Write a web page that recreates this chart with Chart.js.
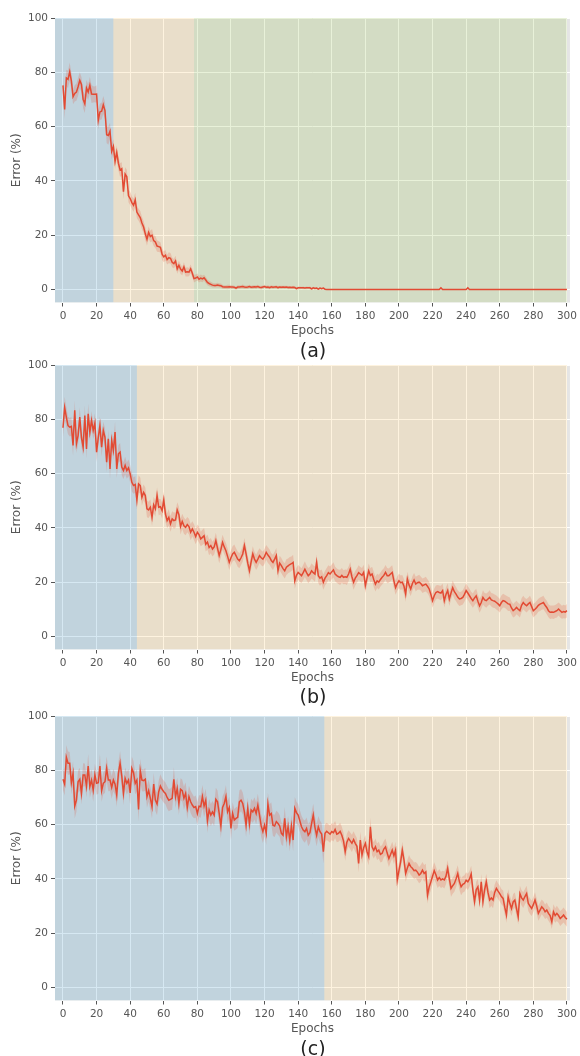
<!DOCTYPE html>
<html lang="en">
<head>
  <meta charset="UTF-8" />
  <title>Error vs Epochs</title>
  <script src="https://cdn.jsdelivr.net/npm/chart.js"></script>
  <style>
    body { margin: 0; background: #fff; width: 580px; height: 1056px; overflow: hidden; position: relative; }
    canvas { position: absolute; left: 0; }
    .caption { position: absolute; left: 263px; width: 100px; text-align: center;
      font-family: "DejaVu Sans", sans-serif; font-size: 19px; line-height: 19px; color: #222; }
  </style>
</head>
<body>
  <canvas id="chartA" width="580" height="340" style="top:0px"></canvas>
  <div class="caption" style="top:341px">(a)</div>
  <canvas id="chartB" width="580" height="340" style="top:347px"></canvas>
  <div class="caption" style="top:687px">(b)</div>
  <canvas id="chartC" width="580" height="340" style="top:698px"></canvas>
  <div class="caption" style="top:1039px">(c)</div>

<script>
  // tick labels
  const xTicks = [0, 20, 40, 60, 80, 100, 120, 140, 160, 180, 200, 220, 240, 260, 280, 300];
  const yTicks = [0, 20, 40, 60, 80, 100];

  // phase boundaries (epochs) for the shaded regions
  const phasesA = [-5, 30, 78, 300];
  const phasesB = [-5, 44, 300];
  const phasesC = [-5, 155.6, 300];

  // mean error per epoch (0..300)
  const errorA = [
    75.2, 66.3, 77.9, 77.4, 80.2, 76.8, 71.0, 72.2, 72.7, 74.7,
    77.0, 75.5, 70.0, 68.4, 74.2, 72.7, 75.2, 72.0, 71.9, 71.9,
    72.0, 62.3, 65.4, 65.7, 68.0, 65.9, 57.0, 56.7, 58.3, 50.9,
    52.7, 47.2, 50.5, 46.5, 44.0, 44.5, 36.0, 42.5, 41.5, 34.5,
    33.5, 32.0, 31.0, 33.0, 28.5, 27.5, 26.5, 24.5, 23.0, 20.5,
    18.5, 21.0, 19.5, 20.0, 18.0, 17.5, 16.0, 15.8, 15.5, 13.0,
    12.0, 12.6, 11.0, 11.7, 11.5, 10.0, 9.5, 10.5, 7.6, 8.9,
    7.5, 6.8, 8.3, 6.4, 6.5, 6.4, 7.6, 6.0, 4.0, 4.2,
    4.6, 3.8, 4.2, 3.9, 4.3, 3.5, 2.6, 2.2, 1.9, 1.6,
    1.5, 1.5, 1.6, 1.5, 1.4, 1.0, 0.9, 0.9, 0.9, 1.0,
    0.9, 0.9, 0.8, 0.5, 0.9, 0.9, 1.0, 1.1, 0.9, 0.8,
    0.9, 1.1, 0.8, 0.9, 1.0, 0.9, 1.1, 0.8, 0.7, 0.9,
    1.1, 0.8, 0.9, 0.7, 1.0, 0.8, 0.9, 1.0, 0.7, 0.9,
    0.8, 0.9, 0.8, 0.9, 0.7, 0.8, 0.7, 0.8, 0.7, 0.3,
    0.6, 0.6, 0.6, 0.6, 0.5, 0.6, 0.6, 0.6, 0.2, 0.6,
    0.4, 0.5, 0.1, 0.5, 0.3, 0.5, 0.1, 0, 0, 0,
    0, 0, 0, 0, 0, 0, 0, 0, 0, 0,
    0, 0, 0, 0, 0, 0, 0, 0, 0, 0,
    0, 0, 0, 0, 0, 0, 0, 0, 0, 0,
    0, 0, 0, 0, 0, 0, 0, 0, 0, 0,
    0, 0, 0, 0, 0, 0, 0, 0, 0, 0,
    0, 0, 0, 0, 0, 0, 0, 0, 0, 0,
    0, 0, 0, 0, 0, 0.6, 0, 0, 0, 0,
    0, 0, 0, 0, 0, 0, 0, 0, 0, 0,
    0, 0.6, 0, 0, 0, 0, 0, 0, 0, 0,
    0, 0, 0, 0, 0, 0, 0, 0, 0, 0,
    0, 0, 0, 0, 0, 0, 0, 0, 0, 0,
    0, 0, 0, 0, 0, 0, 0, 0, 0, 0,
    0, 0, 0, 0, 0, 0, 0, 0, 0, 0,
    0, 0, 0, 0, 0, 0, 0, 0, 0, 0,
    0
  ];
  const errorB = [
    76.9, 84.3, 80.8, 77.7, 77.1, 77.4, 70.4, 83.3, 71.0, 74.0,
    80.8, 73.2, 69.7, 81.4, 69.1, 82.0, 75.3, 79.6, 75.9, 78.6,
    67.9, 73.2, 77.7, 69.7, 75.9, 73.4, 64.2, 72.8, 61.7, 72.2,
    68.5, 75.3, 61.7, 67.3, 67.9, 62.4, 61.1, 63.0, 61.1, 62.1,
    59.9, 56.8, 55.6, 56.0, 50.3, 56.2, 55.6, 51.3, 53.1, 51.9,
    47.0, 46.6, 47.6, 43.9, 48.5, 47.0, 51.9, 47.6, 47.8, 46.4,
    50.3, 45.1, 42.7, 43.9, 41.5, 43.3, 42.7, 42.9, 46.6, 44.9,
    40.5, 42.4, 40.8, 40.2, 41.2, 40.5, 38.4, 39.6, 38.4, 36.8,
    38.4, 37.5, 35.9, 36.5, 37.1, 34.0, 34.8, 32.8, 33.5, 32.2,
    33.0, 35.3, 32.5, 29.8, 32.0, 34.7, 33.0, 31.6, 29.5, 27.3,
    29.0, 30.4, 31.0, 29.8, 28.5, 27.9, 29.0, 30.4, 33.5, 30.4,
    27.0, 24.2, 27.5, 30.4, 28.5, 27.3, 28.5, 29.8, 29.0, 28.5,
    29.5, 31.0, 30.0, 29.2, 28.0, 27.3, 28.5, 29.8, 24.2, 27.0,
    26.1, 25.0, 24.2, 25.5, 26.0, 26.5, 26.8, 27.3, 20.5, 22.5,
    23.6, 23.0, 22.4, 23.5, 24.8, 23.5, 22.4, 23.0, 24.2, 23.5,
    23.0, 27.3, 22.4, 21.5, 22.0, 20.0, 21.5, 22.4, 23.5, 23.0,
    23.8, 24.5, 23.0, 22.4, 22.0, 21.8, 22.5, 21.8, 22.0, 21.8,
    23.0, 24.8, 22.0, 20.0, 21.5, 22.4, 23.5, 23.0, 22.5, 23.6,
    18.7, 21.5, 24.2, 22.5, 23.0, 21.0, 19.3, 20.5, 20.0, 21.0,
    21.8, 22.5, 23.6, 22.4, 22.4, 23.0, 23.6, 20.5, 18.0, 19.5,
    20.5, 19.8, 20.0, 18.5, 15.6, 21.2, 19.0, 17.5, 19.5, 20.8,
    19.3, 19.8, 20.0, 19.5, 18.7, 19.0, 19.3, 18.5, 17.5, 15.5,
    13.2, 15.0, 16.2, 16.5, 16.2, 16.0, 16.9, 13.2, 15.5, 16.9,
    13.8, 16.0, 18.0, 16.5, 15.6, 14.5, 13.8, 14.0, 14.4, 15.5,
    16.9, 16.0, 15.0, 14.0, 13.2, 14.2, 15.0, 13.0, 11.3, 12.5,
    14.4, 13.5, 13.2, 13.8, 14.4, 13.5, 13.2, 13.0, 12.5, 12.0,
    11.3, 12.5, 13.2, 13.0, 12.5, 12.0, 11.9, 10.5, 9.5, 10.0,
    10.7, 10.0, 9.5, 11.5, 12.5, 11.8, 11.3, 12.0, 12.5, 11.0,
    9.5, 10.0, 10.7, 11.5, 11.9, 12.2, 12.5, 11.5, 10.7, 9.5,
    8.9, 9.0, 8.9, 9.2, 9.5, 10.1, 9.5, 8.9, 9.2, 9.0,
    9.5
  ];
  const errorC = [
    76.7, 74.9, 84.8, 82.6, 82.6, 75.4, 78.9, 66.8, 69.0, 75.8,
    76.7, 71.5, 78.3, 78.3, 74.2, 81.6, 74.0, 76.4, 72.7, 78.3,
    75.2, 75.4, 81.6, 72.5, 75.2, 75.8, 80.7, 76.4, 76.4, 73.7,
    76.4, 74.9, 70.9, 78.9, 82.6, 77.9, 71.5, 77.0, 75.2, 76.4,
    71.7, 80.7, 79.1, 75.2, 76.4, 65.6, 79.9, 76.4, 76.2, 76.7,
    70.3, 72.5, 69.7, 66.6, 74.9, 69.0, 67.6, 72.1, 74.2, 73.0,
    72.1, 71.5, 70.0, 69.0, 69.3, 69.7, 76.7, 70.3, 73.3, 67.8,
    73.0, 72.5, 69.7, 71.5, 66.3, 70.3, 68.4, 67.2, 66.3, 66.6,
    64.1, 66.8, 66.6, 70.3, 66.8, 69.0, 61.4, 65.4, 63.5, 64.7,
    63.5, 69.3, 68.4, 64.1, 59.5, 66.3, 67.8, 70.3, 64.7, 66.3,
    58.6, 64.1, 61.7, 62.3, 62.7, 68.4, 69.0, 67.8, 64.7, 59.8,
    66.0, 60.2, 65.4, 64.7, 66.0, 64.1, 67.2, 63.5, 59.5, 57.4,
    59.8, 56.8, 67.6, 63.5, 64.1, 59.8, 59.5, 61.1, 60.4, 59.5,
    56.8, 56.1, 62.3, 55.5, 59.2, 54.3, 59.5, 54.3, 66.0, 64.4,
    63.5, 61.4, 59.2, 58.0, 57.4, 58.6, 56.1, 57.0, 60.4, 63.5,
    59.0, 56.1, 59.2, 57.4, 56.5, 50.0, 56.8, 57.5, 57.0, 56.5,
    57.4, 57.0, 58.2, 56.5, 56.8, 57.5, 56.1, 54.0, 50.0, 53.5,
    54.9, 54.0, 53.1, 54.5, 53.1, 52.0, 45.7, 54.3, 48.8, 51.5,
    53.1, 50.0, 48.2, 59.2, 51.8, 50.5, 51.8, 50.0, 50.6, 49.0,
    49.4, 51.0, 51.8, 49.5, 47.5, 49.0, 50.6, 48.5, 50.6, 39.6,
    43.0, 46.3, 50.6, 47.0, 42.0, 44.0, 45.7, 44.5, 43.9, 43.0,
    43.2, 42.5, 41.4, 42.0, 43.2, 42.0, 42.6, 34.0, 37.0, 38.9,
    41.0, 43.0, 41.5, 39.6, 40.5, 39.6, 40.0, 39.6, 41.0, 43.9,
    40.0, 36.5, 37.5, 38.3, 40.0, 42.0, 39.0, 37.1, 38.0, 38.3,
    39.5, 38.9, 40.0, 41.8, 36.0, 31.6, 36.0, 37.1, 32.2, 38.9,
    31.6, 36.0, 38.9, 35.0, 32.2, 33.0, 32.2, 35.0, 36.5, 35.5,
    34.6, 33.5, 32.8, 29.5, 26.7, 33.4, 31.0, 29.1, 31.5, 32.2,
    29.0, 26.0, 34.6, 33.0, 32.2, 33.5, 34.6, 31.0, 30.0, 29.1,
    30.5, 32.2, 30.0, 27.3, 28.5, 29.7, 29.0, 27.9, 28.5, 27.3,
    26.5, 24.2, 27.9, 26.5, 27.3, 26.5, 25.4, 26.0, 26.7, 25.8,
    25.1
  ];

  // half-width of the shaded band per epoch
  const spreadA = [
    3.2, 3.5, 3.0, 3.2, 3.4, 3.0, 2.8, 3.0, 3.2, 3.3,
    3.0, 2.8, 3.2, 3.4, 3.0, 2.9, 3.1, 3.3, 3.0, 2.9,
    3.2, 3.4, 3.0, 3.1, 3.3, 3.2, 3.0, 3.4, 3.1, 2.9,
    2.6, 2.8, 2.5, 2.7, 2.6, 2.4, 2.8, 2.5, 2.6, 2.4,
    2.5, 2.3, 2.4, 2.6, 2.3, 2.2, 2.4, 2.3, 2.2, 2.4,
    2.3, 2.2, 2.1, 2.3, 2.0, 2.2, 2.1, 2.0, 1.9, 2.1,
    2.0, 1.9, 1.8, 2.0, 1.9, 1.8, 1.7, 1.9, 1.8, 1.7,
    1.8, 1.6, 1.7, 1.6, 1.7, 1.5, 1.6, 1.5, 1.4, 1.3,
    1.3, 1.2, 1.3, 1.2, 1.1, 1.2, 1.0, 1.0, 0.9, 0.9,
    0.8, 0.8, 0.9, 0.8, 0.8, 0.7, 0.7, 0.7, 0.8, 0.7,
    0.7, 0.7, 0.6, 0.6, 0.7, 0.7, 0.6, 0.7, 0.7, 0.6,
    0.7, 0.6, 0.6, 0.7, 0.6, 0.7, 0.6, 0.6, 0.7, 0.6,
    0.6, 0.6, 0.7, 0.6, 0.6, 0.6, 0.5, 0.6, 0.6, 0.5,
    0.6, 0.5, 0.6, 0.5, 0.6, 0.5, 0.5, 0.6, 0.5, 0.4,
    0.5, 0.5, 0.4, 0.5, 0.4, 0.5, 0.4, 0.5, 0.4, 0.4,
    0.4, 0.4, 0.3, 0.4, 0.3, 0.4, 0.2, 0, 0, 0,
    0, 0, 0, 0, 0, 0, 0, 0, 0, 0,
    0, 0, 0, 0, 0, 0, 0, 0, 0, 0,
    0, 0, 0, 0, 0, 0, 0, 0, 0, 0,
    0, 0, 0, 0, 0, 0, 0, 0, 0, 0,
    0, 0, 0, 0, 0, 0, 0, 0, 0, 0,
    0, 0, 0, 0, 0, 0, 0, 0, 0, 0,
    0, 0, 0, 0, 0, 0.4, 0, 0, 0, 0,
    0, 0, 0, 0, 0, 0, 0, 0, 0, 0,
    0, 0.4, 0, 0, 0, 0, 0, 0, 0, 0,
    0, 0, 0, 0, 0, 0, 0, 0, 0, 0,
    0, 0, 0, 0, 0, 0, 0, 0, 0, 0,
    0, 0, 0, 0, 0, 0, 0, 0, 0, 0,
    0, 0, 0, 0, 0, 0, 0, 0, 0, 0,
    0, 0, 0, 0, 0, 0, 0, 0, 0, 0,
    0
  ];
  const spreadB = [
    3.5, 4.0, 3.6, 3.2, 3.4, 3.5, 3.8, 3.6, 3.4, 3.3,
    3.6, 3.4, 3.2, 3.8, 3.5, 3.6, 3.3, 3.4, 3.2, 3.5,
    3.6, 3.3, 3.4, 3.5, 3.2, 3.4, 3.6, 3.3, 3.5, 3.4,
    3.5, 3.8, 3.3, 3.2, 3.4, 3.0, 3.1, 3.2, 3.0, 3.1,
    3.2, 3.4, 3.0, 3.1, 3.5, 3.2, 3.0, 3.1, 2.9, 3.0,
    3.1, 3.0, 2.9, 3.2, 3.0, 2.9, 3.1, 3.0, 2.8, 2.9,
    3.0, 2.9, 2.8, 3.0, 2.9, 2.8, 3.0, 2.9, 2.8, 3.0,
    2.9, 2.8, 3.0, 2.9, 2.8, 2.9, 3.0, 2.8, 2.9, 2.8,
    2.8, 2.9, 2.7, 2.8, 2.9, 2.7, 2.8, 2.9, 2.8, 2.7,
    2.8, 2.9, 2.7, 2.8, 2.9, 2.8, 2.7, 2.8, 2.9, 2.8,
    2.7, 2.8, 2.9, 2.7, 2.8, 2.8, 2.7, 2.9, 2.8, 2.7,
    2.8, 2.9, 2.7, 2.8, 2.7, 2.8, 2.9, 2.7, 2.8, 2.7,
    2.8, 2.7, 2.9, 2.8, 2.7, 2.8, 2.7, 2.8, 2.9, 2.7,
    2.8, 2.7, 2.8, 2.9, 2.7, 2.8, 2.7, 2.8, 2.9, 2.8,
    2.7, 2.8, 2.7, 2.8, 2.9, 2.7, 2.8, 2.7, 2.8, 2.7,
    2.8, 2.9, 2.7, 2.8, 2.7, 2.8, 2.7, 2.8, 2.7, 2.8,
    2.7, 2.8, 2.7, 2.6, 2.7, 2.8, 2.7, 2.6, 2.7, 2.8,
    2.7, 2.6, 2.7, 2.8, 2.7, 2.6, 2.7, 2.6, 2.7, 2.8,
    2.7, 2.6, 2.7, 2.6, 2.7, 2.8, 2.7, 2.6, 2.7, 2.6,
    2.7, 2.6, 2.7, 2.8, 2.6, 2.7, 2.6, 2.7, 2.6, 2.7,
    2.6, 2.7, 2.6, 2.7, 2.8, 2.6, 2.7, 2.6, 2.7, 2.6,
    2.7, 2.6, 2.7, 2.6, 2.7, 2.6, 2.7, 2.6, 2.7, 2.6,
    2.6, 2.7, 2.6, 2.5, 2.6, 2.7, 2.6, 2.5, 2.6, 2.7,
    2.6, 2.5, 2.6, 2.7, 2.6, 2.5, 2.6, 2.5, 2.6, 2.7,
    2.6, 2.5, 2.6, 2.5, 2.6, 2.7, 2.6, 2.5, 2.6, 2.5,
    2.6, 2.5, 2.6, 2.5, 2.6, 2.5, 2.6, 2.5, 2.6, 2.5,
    2.5, 2.6, 2.5, 2.4, 2.5, 2.6, 2.5, 2.4, 2.5, 2.6,
    2.5, 2.4, 2.5, 2.6, 2.5, 2.4, 2.5, 2.4, 2.5, 2.6,
    2.5, 2.4, 2.5, 2.4, 2.5, 2.4, 2.5, 2.4, 2.5, 2.4,
    2.5, 2.4, 2.5, 2.4, 2.5, 2.4, 2.5, 2.4, 2.5, 2.4,
    2.5
  ];
  const spreadC = [
    4.0, 4.2, 4.5, 4.3, 4.1, 4.2, 4.4, 4.6, 4.3, 4.1,
    4.2, 4.0, 4.3, 4.2, 4.1, 4.4, 4.2, 4.0, 4.3, 4.1,
    4.2, 4.0, 4.3, 4.1, 4.0, 4.2, 4.4, 4.1, 4.0, 4.2,
    4.1, 4.0, 4.3, 4.2, 4.4, 4.1, 4.3, 4.0, 4.2, 4.1,
    4.3, 4.4, 4.2, 4.0, 4.1, 4.5, 4.3, 4.1, 4.0, 4.2,
    4.1, 4.0, 4.2, 4.3, 4.1, 4.0, 4.2, 4.1, 4.3, 4.0,
    4.1, 4.0, 4.2, 4.1, 4.0, 4.2, 4.4, 4.1, 4.0, 4.2,
    4.1, 4.0, 4.2, 4.1, 4.3, 4.0, 4.1, 4.2, 4.0, 4.1,
    4.2, 4.0, 4.1, 4.3, 4.1, 4.2, 4.4, 4.0, 4.1, 4.0,
    4.1, 4.3, 4.2, 4.0, 4.4, 4.1, 4.0, 4.2, 4.1, 4.0,
    4.3, 4.1, 4.0, 4.1, 4.0, 4.2, 4.1, 4.0, 4.1, 4.3,
    4.0, 4.2, 4.1, 4.0, 4.1, 4.0, 4.2, 4.0, 4.1, 4.2,
    4.0, 4.2, 4.1, 4.0, 4.1, 4.0, 4.1, 4.0, 4.1, 4.0,
    4.1, 4.0, 4.2, 4.1, 4.0, 4.2, 4.0, 4.1, 4.2, 4.0,
    4.1, 4.0, 4.1, 4.0, 4.1, 4.0, 4.1, 4.0, 4.1, 4.2,
    4.0, 4.1, 4.0, 4.1, 4.0, 4.3, 3.3, 3.2, 3.1, 3.2,
    3.1, 3.2, 3.1, 3.0, 3.1, 3.2, 3.1, 3.0, 3.3, 3.1,
    3.0, 3.1, 3.2, 3.0, 3.1, 3.0, 3.3, 3.1, 3.2, 3.0,
    3.1, 3.0, 3.2, 3.3, 3.1, 3.0, 3.1, 3.0, 3.1, 3.0,
    3.1, 3.0, 3.1, 3.0, 3.1, 3.0, 3.1, 3.0, 3.1, 3.3,
    3.1, 3.0, 3.1, 3.0, 3.1, 3.0, 3.1, 3.0, 3.1, 3.0,
    3.0, 3.1, 3.0, 3.1, 3.0, 3.1, 3.0, 3.2, 3.1, 3.0,
    3.0, 3.1, 3.0, 3.0, 3.1, 3.0, 3.0, 3.1, 3.0, 3.0,
    3.0, 3.1, 3.0, 3.0, 3.1, 3.0, 3.0, 3.1, 3.0, 3.0,
    2.9, 3.0, 2.9, 3.0, 2.9, 3.1, 3.0, 2.9, 3.0, 2.9,
    3.0, 2.9, 3.0, 2.9, 3.0, 2.9, 3.0, 2.9, 3.0, 2.9,
    2.9, 2.8, 2.9, 2.8, 2.9, 2.8, 2.9, 2.8, 2.9, 2.8,
    2.9, 2.8, 2.9, 2.8, 2.9, 2.8, 2.9, 2.8, 2.9, 2.8,
    2.8, 2.9, 2.8, 2.7, 2.8, 2.7, 2.8, 2.7, 2.8, 2.7,
    2.8, 2.7, 2.8, 2.7, 2.8, 2.7, 2.8, 2.7, 2.8, 2.7,
    2.7
  ];

  const phaseColorsA = ["rgba(52,138,189,0.2)", "rgba(251,193,94,0.2)", "rgba(142,186,66,0.2)"];
  const phaseColorsBC = ["rgba(52,138,189,0.2)", "rgba(251,193,94,0.2)"];

  Chart.defaults.font.family = "'DejaVu Sans', sans-serif";
  Chart.defaults.color = "#555";

  // gray panel + coloured training phases
  const phasePlugin = {
    id: "phases",
    beforeDraw(chart, args, opts) {
      const { ctx, chartArea } = chart;
      ctx.save();
      ctx.fillStyle = "#E5E5E5";
      ctx.fillRect(chartArea.left, chartArea.top, chartArea.right - chartArea.left, chartArea.bottom - chartArea.top);
      ctx.restore();
    },
    beforeDatasetsDraw(chart, args, opts) {
      const { ctx, chartArea } = chart;
      const x = chart.scales.x;
      ctx.save();
      ctx.beginPath();
      ctx.rect(chartArea.left, chartArea.top, chartArea.right - chartArea.left, chartArea.bottom - chartArea.top);
      ctx.clip();
      for (let i = 0; i < opts.edges.length - 1; i++) {
        const x0 = Math.max(chartArea.left, x.getPixelForValue(opts.edges[i]));
        const x1 = x.getPixelForValue(opts.edges[i + 1]);
        ctx.fillStyle = opts.colors[i];
        ctx.fillRect(x0, chartArea.top, x1 - x0, chartArea.bottom - chartArea.top);
      }
      ctx.restore();
    }
  };

  function makeChart(id, values, spread, edges, colors) {
    const mean = values.map((v, i) => ({ x: i, y: v }));
    const upper = values.map((v, i) => ({ x: i, y: v + spread[i] }));
    const lower = values.map((v, i) => ({ x: i, y: Math.max(v - spread[i], -0.3) }));

    return new Chart(document.getElementById(id).getContext("2d"), {
      type: "line",
      data: {
        datasets: [
          { data: mean, borderColor: "#E24A33", borderWidth: 1.5, pointRadius: 0, fill: false, tension: 0 },
          { data: upper, borderWidth: 0, borderColor: "rgba(0,0,0,0)", pointRadius: 0, fill: false },
          { data: lower, borderWidth: 0, borderColor: "rgba(0,0,0,0)", pointRadius: 0,
            fill: "-1", backgroundColor: "rgba(226,74,51,0.2)" }
        ]
      },
      options: {
        responsive: false,
        animation: false,
        layout: { padding: { top: 18, right: 9, left: 0, bottom: 0 } },
        plugins: {
          legend: { display: false },
          tooltip: { enabled: false },
          phases: { edges: edges, colors: colors }
        },
        scales: {
          x: {
            type: "linear",
            min: -4.75,
            max: 301.8,
            afterBuildTicks: (s) => { s.ticks = xTicks.map((v) => ({ value: v })); },
            afterFit: (s) => { s.height = 37.5; },
            grid: { color: "#fff", lineWidth: 1, tickColor: "#555", tickLength: 4, tickWidth: 1 },
            border: { display: false },
            ticks: { color: "#555", font: { size: 10.5 }, padding: 3, maxRotation: 0, autoSkip: false },
            title: { display: true, text: "Epochs", color: "#555", font: { size: 12 }, padding: { top: 0, bottom: 2 } }
          },
          y: {
            type: "linear",
            min: -4.8,
            max: 100,
            afterBuildTicks: (s) => { s.ticks = yTicks.map((v) => ({ value: v })); },
            afterFit: (s) => { s.width = 55; },
            grid: { color: "#fff", lineWidth: 1, tickColor: "#555", tickLength: 4, tickWidth: 1 },
            border: { display: false },
            ticks: { color: "#555", font: { size: 10.5 }, padding: 3 },
            title: { display: true, text: "Error (%)", color: "#555", font: { size: 12 }, padding: { top: 10, bottom: 0 } }
          }
        }
      },
      plugins: [phasePlugin]
    });
  }

  makeChart("chartA", errorA, spreadA, phasesA, phaseColorsA);
  makeChart("chartB", errorB, spreadB, phasesB, phaseColorsBC);
  makeChart("chartC", errorC, spreadC, phasesC, phaseColorsBC);
</script>
</body>
</html>
